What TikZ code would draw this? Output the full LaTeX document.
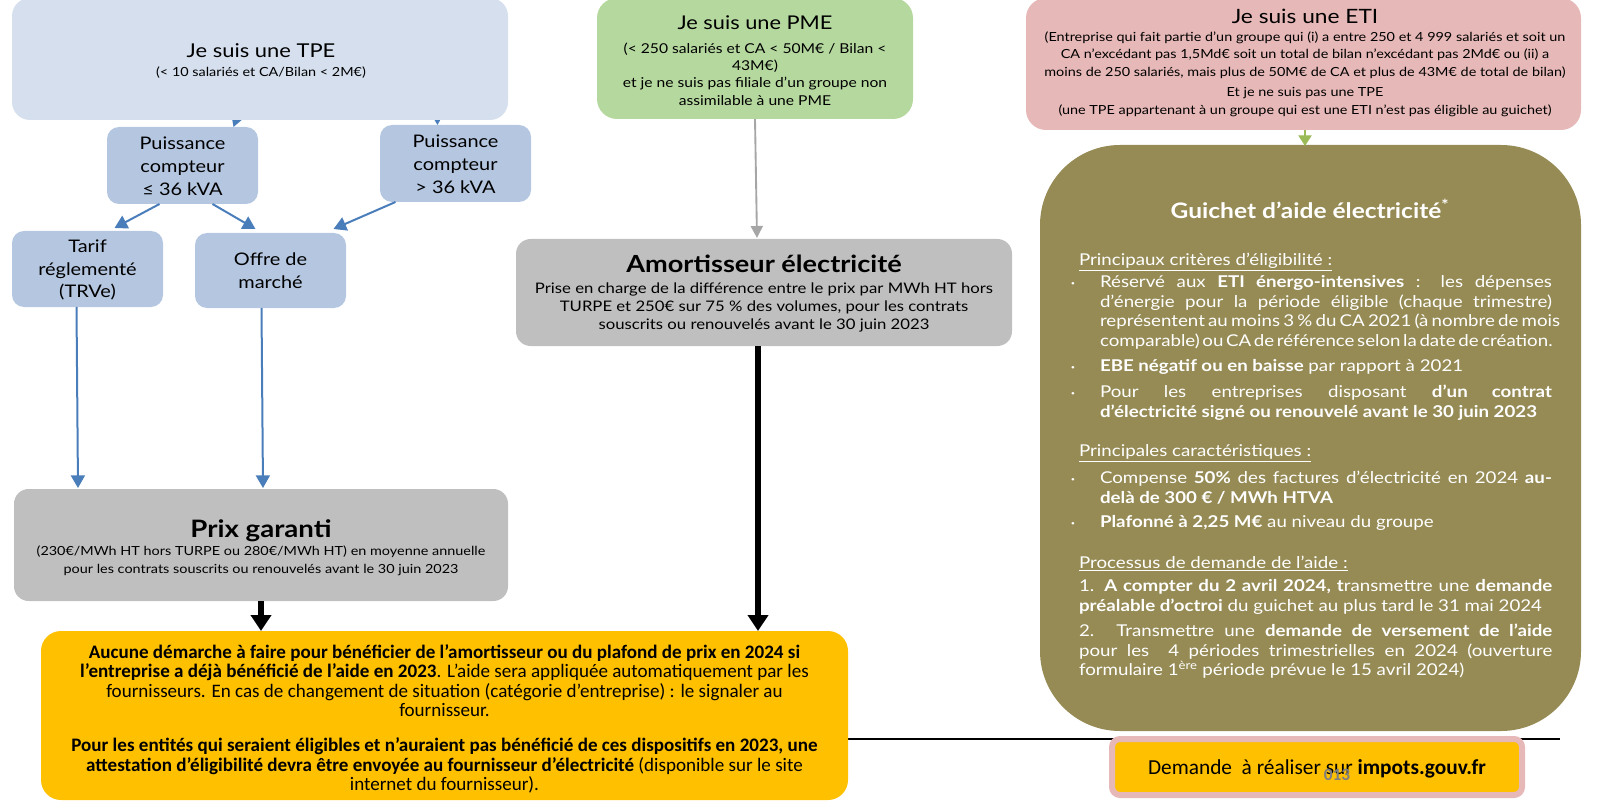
\documentclass[tikz,border=0pt]{standalone}
\usepackage{fontspec}
\setmainfont{Lato}[FakeStretch=1.15]
\newfontfamily\carl{Carlito}
\usetikzlibrary{arrows.meta,calc,backgrounds}
\definecolor{tpeblue}{HTML}{D5DFEE}
\definecolor{boxblue}{HTML}{B4C6E0}
\definecolor{arrblue}{HTML}{4A7EBB}
\definecolor{pmegreen}{HTML}{B5D89F}
\definecolor{grayb}{HTML}{BFBFBF}
\definecolor{etipink}{HTML}{E6B8B7}
\definecolor{olive}{HTML}{968B55}
\definecolor{gold}{HTML}{FFC000}
\definecolor{trigreen}{HTML}{9BBB59}
\definecolor{arrgray}{HTML}{A6A6A6}
\definecolor{pgnum}{HTML}{7F7F7F}
\newcommand\jl[1]{\makebox[339pt][s]{#1}}
\newcommand\jt[1]{\makebox[339pt][s]{\spaceskip=0.16em plus 1fil\relax #1}}
\newcommand\jp[1]{\makebox[355pt][s]{#1}}
\tikzset{
 bx/.style n args={3}{rectangle, draw=none, minimum width=#1*0.75pt, minimum height=#2*0.75pt, inner sep=0pt, outer sep=0pt, rounded corners=#3},
 txt/.style={inner sep=0pt, outer sep=0pt, align=center},
 barr/.style={draw=arrblue, line width=1.5pt, -{Triangle[width=10.5pt,length=9.5pt]}},
 karr/.style={draw=black, line width=4.5pt, -{Triangle[width=15pt,length=12pt]}},
 garr/.style={draw=arrgray, line width=1.4pt, -{Triangle[width=9pt,length=9pt]}},
 tarr/.style={draw=trigreen, line width=1pt, -{Triangle[width=10pt,length=8pt]}},
 gtxt/.style={inner sep=0pt, outer sep=0pt, align=left, text=white, font=\fontsize{12.2}{14.6}\selectfont},
 bdot/.style={inner sep=0pt, outer sep=0pt, text=white, font=\fontsize{12}{14.6}\selectfont},
 ptxt/.style={txt, font=\fontsize{13}{17.2}\selectfont},
}
\begin{document}
\begin{tikzpicture}[x=0.75pt,y=-0.75pt]
\useasboundingbox (0,0) rectangle (1609,802);
% boxes
\node[bx={496}{122}{13.5pt}, fill=tpeblue] (tpe) at (260,59) {};
\node[bx={151}{77}{9pt}, fill=boxblue] (p1) at (182.5,165.5) {};
\node[bx={151}{77}{9pt}, fill=boxblue] (p2) at (455.5,163.5) {};
\node[bx={151}{76}{9pt}, fill=boxblue] (tarif) at (87.5,269) {};
\node[bx={151}{75}{9pt}, fill=boxblue] (offre) at (270.5,270.5) {};
\node[bx={494}{112}{11pt}, fill=grayb] (prix) at (261,545) {};
\node[bx={316}{121}{15pt}, fill=pmegreen] (pme) at (755,58.5) {};
\node[bx={496}{107}{11pt}, fill=grayb] (amort) at (764,292.5) {};
\node[bx={555}{132}{15pt}, fill=etipink] (eti) at (1303.5,64) {};
\node[bx={541}{586}{60pt}, fill=olive] (guichet) at (1310.5,438) {};
\node[bx={807}{169}{15pt}, fill=gold] (yellow) at (444.5,715.5) {};
\node[bx={410}{56}{6pt}, fill=gold, draw=etipink, line width=4.5pt] (demande) at (1317,767) {};
% texts
\node[txt, font=\fontsize{14.3}{18}\selectfont] (tpet) at (261,51) {Je suis une TPE};
\node[txt, font=\fontsize{9.4}{11}\selectfont] (tpes) at (261,73) {(< 10 salariés et CA/Bilan < 2M€)};
\node[ptxt] (p1t) at (182.5,166) {Puissance\\compteur\\≤ 36 kVA};
\node[ptxt] (p2t) at (455.5,164) {Puissance\\compteur\\> 36 kVA};
\node[ptxt] (tarift) at (87.5,270) {Tarif\\réglementé\\(TRVe)};
\node[ptxt] (offret) at (270.5,271) {Offre de\\marché};
\node[txt, font=\bfseries\fontsize{18}{21}\selectfont] (prixt) at (261,531) {Prix garanti};
\node[txt, font=\fontsize{9.4}{13.5}\selectfont] (prixs) at (261,561) {(230€/MWh HT hors TURPE ou 280€/MWh HT) en moyenne annuelle\\pour les contrats souscrits ou renouvelés avant le 30 juin 2023};
\node[txt, font=\fontsize{14.2}{19}\selectfont] (pmet) at (755,23) {Je suis une PME};
\node[txt, font=\fontsize{10.2}{13}\selectfont] (pmes) at (755,74) {(< 250 salariés et CA < 50M€ / Bilan <\\43M€)\\et je ne suis pas filiale d’un groupe non\\assimilable à une PME};
\node[txt, font=\bfseries\fontsize{17.7}{21}\selectfont] (amortt) at (764,264) {Amortisseur électricité};
\node[txt, font=\fontsize{10.9}{13.5}\selectfont] (amorts) at (764,307) {Prise en charge de la différence entre le prix par MWh HT hors\\TURPE et 250€ sur 75 \% des volumes, pour les contrats\\souscrits ou renouvelés avant le 30 juin 2023};
\node[txt, font=\fontsize{14.8}{20}\selectfont] (etit) at (1305,16) {Je suis une ETI};
\node[txt, font=\fontsize{9.4}{13}\selectfont] (etis) at (1305,55) {(Entreprise qui fait partie d’un groupe qui (i) a entre 250 et 4 999 salariés et soit un\\CA n’excédant pas 1,5Md€ soit un total de bilan n’excédant pas 2Md€ ou (ii) a\\moins de 250 salariés, mais plus de 50M€ de CA et plus de 43M€ de total de bilan)};
\node[txt, font=\fontsize{9.4}{13}\selectfont] (etis2) at (1305,102) {Et je ne suis pas une TPE\\(une TPE appartenant à un groupe qui est une ETI n’est pas éligible au guichet)};
% guichet texts
\node[txt, text=white, font=\bfseries\fontsize{16}{17}\selectfont] (gt) at (1310,209) {Guichet d’aide électricité\textsuperscript{*}};
\node[gtxt, anchor=base west] (h1) at (1079,265.5) {\underline{Principaux critères d’éligibilité :}};
\node[bdot] (d1) at (1073,286) {·};
\node[gtxt, anchor=north west] (i1) at (1100,274) {\strut\jl{Réservé aux \textbf{ETI énergo-intensives} : les dépenses}\\\jl{d’énergie pour la période éligible (chaque trimestre)}\\\jl{représentent au moins 3 \% du CA 2021 (à nombre de mois}\\\jt{comparable) ou CA de référence selon la date de création.}};
\node[bdot] (d2) at (1073,370) {·};
\node[gtxt, anchor=north west] (i2) at (1100,358) {\strut\textbf{EBE négatif ou en baisse} par rapport à 2021};
\node[bdot] (d3) at (1073,396) {·};
\node[gtxt, anchor=north west] (i3) at (1100,384) {\strut\jl{Pour les entreprises disposant \textbf{d’un contrat}}\\\textbf{d’électricité signé ou renouvelé avant le 30 juin 2023}};
\node[gtxt, anchor=base west] (h2) at (1079,456.5) {\underline{Principales caractéristiques :}};
\node[bdot] (d4) at (1073,482) {·};
\node[gtxt, anchor=north west] (i4) at (1100,470) {\strut\jl{Compense \textbf{50\%} des factures d’électricité en 2024 \textbf{au-}}\\\textbf{delà de 300 € / MWh HTVA}};
\node[bdot] (d5) at (1073,526) {·};
\node[gtxt, anchor=north west] (i5) at (1100,514) {\strut\textbf{Plafonné à 2,25 M€} au niveau du groupe};
\node[gtxt, anchor=base west] (h3) at (1079,568.5) {\underline{Processus de demande de l’aide :}};
\node[gtxt, anchor=north west] (q1) at (1079,578) {\strut\jp{1. \textbf{A compter du 2 avril 2024, t}ransmettre une \textbf{demande}}\\\textbf{préalable d’octroi} du guichet au plus tard le 31 mai 2024};
\node[gtxt, anchor=north west] (q2) at (1079,623) {\strut\jp{2. Transmettre une \textbf{demande de versement de l’aide}}\\\jp{pour les~~4 périodes trimestrielles en 2024 (ouverture}\\formulaire 1\textsuperscript{ère} période prévue le 15 avril 2024)};
% yellow
\node[txt, font=\carl\fontsize{14.3}{14.6}\selectfont] (y1) at (444.5,680.5) {\textbf{Aucune démarche à faire pour bénéficier de l’amortisseur ou du plafond de prix en 2024 si}\\\textbf{l’entreprise a déjà bénéficié de l’aide en 2023}. L’aide sera appliquée automatiquement par les\\fournisseurs. En cas de changement de situation (catégorie d’entreprise) : le signaler au\\fournisseur.};
\node[txt, font=\carl\fontsize{14.3}{14.6}\selectfont] (y2) at (444.5,765.5) {\textbf{Pour les entités qui seraient éligibles et n’auraient pas bénéficié de ces dispositifs en 2023, une}\\\textbf{attestation d’éligibilité devra être envoyée au fournisseur d’électricité} (disponible sur le site\\internet du fournisseur).};
\node[txt, font=\carl\fontsize{16}{18}\selectfont] (dt) at (1317,769) {Demande~ à réaliser sur \textbf{impots.gouv.fr}};
\node[txt, text=pgnum, font=\carl\bfseries\fontsize{13}{14}\selectfont] (pg) at (1337,775) {013};
% connectors
\begin{pgfonlayer}{background}
\draw[barr] ($(tpe.south)+(-15,-25)$) -- ($(p1.north)+(51,0)$);
\draw[barr] ($(tpe.south)+(177,-25)$) -- ($(p2.north)+(-18,0)$);
\coordinate (lineend) at (1560,739);
\draw[line width=1.5pt] (yellow.east |- lineend) -- (lineend);
\end{pgfonlayer}
\draw[barr] ($(p1.south)+(-23,0)$) -- ($(tarif.north)+(27,-3)$);
\draw[barr] ($(p1.south)+(30,0)$) -- ($(offre.north)+(-15,-4)$);
\draw[barr] ($(p2.south)+(-60,0)$) -- ($(offre.north)+(63,-4)$);
\draw[barr] ($(tarif.south)+(-11,0)$) -- ($(prix.north)+(-183,-1)$);
\draw[barr] ($(offre.south)+(-9,0)$) -- ($(prix.north)+(2,-1)$);
\draw[garr] (pme.south) -- ($(amort.north)+(-7,-1)$);
\draw[karr] (prix.south) -- (prix.south |- yellow.north);
\draw[karr] ($(amort.south)+(-6,0)$) coordinate (ka) -- (ka |- yellow.north);
\draw[tarr] ($(eti.south)+(1.5,0)$) coordinate (ea) -- ($(ea |- guichet.north)+(0,1)$);
\end{tikzpicture}
\end{document}
